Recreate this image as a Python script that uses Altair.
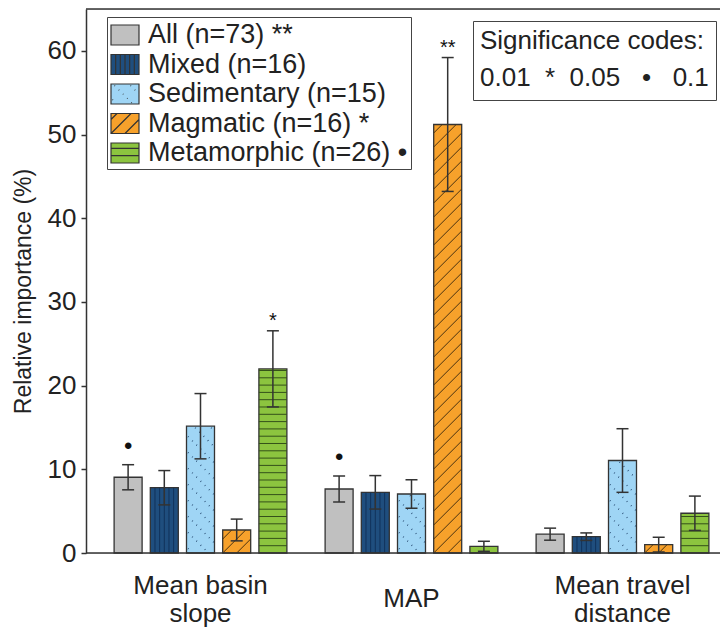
import altair as alt
import numpy as np
import pandas as pd

# ---------------- data ----------------
features = ["Mean basin slope", "MAP", "Mean travel distance"]
series = ["All", "Mixed", "Sedimentary", "Magmatic", "Metamorphic"]
n_sites = [73, 16, 15, 16, 26]
legend_sig = ["**", "", "", "*", "\u2022"]

mean_all = [9.05, 7.65, 2.25]
mean_mixed = [7.8, 7.25, 1.95]
mean_sed = [15.15, 7.05, 11.05]
mean_mag = [2.75, 51.2, 1.0]
mean_met = [22.0, 0.8, 4.75]

err_all = [1.5, 1.55, 0.72]
err_mixed = [2.05, 2.0, 0.45]
err_sed = [3.9, 1.7, 3.8]
err_mag = [1.3, 8.0, 0.88]
err_met = [4.55, 0.6, 2.05]

sig_all = ["\u2022", "\u2022", ""]
sig_mixed = ["", "", ""]
sig_sed = ["", "", ""]
sig_mag = ["", "**", ""]
sig_met = ["*", "", ""]

sig_codes_title = ["Significance codes:",
                   "0.01\u00a0\u00a0*\u00a0\u00a00.05\u00a0\u00a0\u00a0\u2022\u00a0\u00a0\u00a00.1"]

colors = ["#c0c0c0", "#1f4e7e", "#9fd5f5", "#f7a12b", "#8cc43f"]
pattern_kind = {"Mixed": "vertical", "Sedimentary": "dots", "Magmatic": "up", "Metamorphic": "horizontal"}
pattern_color = {"Mixed": "#11325a", "Sedimentary": "#1d3f66", "Magmatic": "#4a3210", "Metamorphic": "#34501a"}

# ---------------- layout constants ----------------
W, H, YMAX = 634, 544, 65
PPU = H / YMAX          # pixels per percent
BAR_W = 28.0            # bar width produced by the xOffset band scale
HALF = BAR_W / 2
SYM_SIZE = BAR_W ** 2   # custom symbol paths span [-1, 1] -> BAR_W pixels

means = [mean_all, mean_mixed, mean_sed, mean_mag, mean_met]
errs = [err_all, err_mixed, err_sed, err_mag, err_met]
sigs = [sig_all, sig_mixed, sig_sed, sig_mag, sig_met]
labels = [f"{s} (n={n})" + (f" {g}" if g else "") for s, n, g in zip(series, n_sites, legend_sig)]

rows = []
for si, s in enumerate(series):
    for fi, f in enumerate(features):
        rows.append(dict(feature=f, series=s, label=labels[si], mean=means[si][fi],
                         err=errs[si][fi], sig=sigs[si][fi], code="codes"))
df = pd.DataFrame(rows)
df["lo"] = df["mean"] - df["err"]
df["hi"] = df["mean"] + df["err"]
df["mid"] = df["mean"] / 2


# ---------------- fill patterns as custom symbol paths ----------------
def f3(v):
    return f"{v:.3f}"


def seg(x0, y0, x1, y1, hgt):
    # bar-local pixel coords (x right, y up) -> symbol coords
    return (f"M{f3((x0 - HALF) / HALF)},{f3((hgt / 2 - y0) / HALF)}"
            f"L{f3((x1 - HALF) / HALF)},{f3((hgt / 2 - y1) / HALF)}")


def pattern_path(kind, hgt, wid=BAR_W):
    parts = []
    if kind == "vertical":
        for x in np.arange(wid / 6, wid - 1, wid / 6):
            parts.append(seg(x, 0, x, hgt, hgt))
    elif kind == "horizontal":
        for y in np.arange(7.3, hgt - 0.8, 7.3):
            parts.append(seg(0, y, wid, y, hgt))
    elif kind == "up":  # y = x + c
        for c in np.arange(-wid, hgt, 14.0):
            xa, xb = max(0.0, -c), min(wid, hgt - c)
            if xb - xa > 1.0:
                parts.append(seg(xa, xa + c, xb, xb + c, hgt))
    elif kind == "dots":  # dotted y = c - x
        for c in np.arange(6.0, hgt + wid, 16.0):
            xa, xb = max(0.0, c - hgt), min(wid, c)
            x = xa + 1.5
            while x < xb - 1.0:
                parts.append(seg(x, c - x, x + 0.5, c - x - 0.5, hgt))
                x += 4.2
    return "".join(parts)


pat_rows = df[df["series"].isin(list(pattern_kind))].copy()
pat_rows["path"] = [pattern_path(pattern_kind[s], m * PPU) for s, m in zip(pat_rows["series"], pat_rows["mean"])]
pat_rows = pat_rows[pat_rows["path"] != ""]

SW_H = 20.0
rect = f"M-1,{f3(-SW_H / 2 / HALF)}H1V{f3(SW_H / 2 / HALF)}H-1Z"
legend_paths = [rect + (pattern_path(pattern_kind[s], SW_H) if s in pattern_kind else "") for s in series]

# ---------------- encodings ----------------
FONT = "Liberation Sans"
TXT = "#222222"
LINE = "#333333"

x_enc = alt.X("feature:N", sort=features, title=None,
              scale=alt.Scale(domain=features, range=[9, 642], paddingInner=0, paddingOuter=0),
              axis=alt.Axis(ticks=False, tickSize=0, domain=False, labelAngle=0, labelFontSize=26,
                            labelColor=TXT, labelFont=FONT,
                            labelPadding={"condition": {"test": "datum.value == 'MAP'", "value": 45},
                                          "value": 32},
                            labelBaseline="middle",
                            labelLineHeight=28, labelLimit=400,
                            labelExpr="datum.label == 'MAP' ? 'MAP' : [substring(datum.label, 0, lastindexof(datum.label, ' ')), substring(datum.label, lastindexof(datum.label, ' ') + 1)]"))
xo_enc = alt.XOffset("series:N", sort=series,
                     scale=alt.Scale(domain=series, paddingInner=0.2265, paddingOuter=0.528))
y_scale = alt.Scale(domain=[0, YMAX], nice=False, zero=True)
y_axis = alt.Axis(values=list(range(0, 61, 10)), tickSize=5, tickWidth=1.5, tickColor=LINE,
                  domainColor=LINE, domainWidth=1.5, labelFontSize=26, labelColor=TXT, labelFont=FONT,
                  labelPadding=5, grid=False, title="Relative importance (%)", titleFontSize=23,
                  titleFontWeight="normal", titleColor=TXT, titleFont=FONT, titleX=-63, titleY=282,
                  titleAngle=270, titleBaseline="middle", titleAlign="center")

legend_main = alt.Legend(title=None, orient="none", legendX=21, legendY=8, padding=3, rowPadding=1.5,
                         symbolSize=SYM_SIZE, symbolOpacity=1, symbolStrokeWidth=1.2,
                         labelFontSize=27, labelFont=FONT, labelColor=TXT,
                         labelOffset=8, labelLimit=500, strokeColor="#444444")
fill_scale = alt.Scale(domain=labels, range=colors)

base = alt.Chart(df)

bars = base.mark_bar(stroke=LINE, strokeWidth=1.3).encode(
    x=x_enc, xOffset=xo_enc,
    y=alt.Y("mean:Q", scale=y_scale, axis=y_axis),
    fill=alt.Fill("label:N", scale=fill_scale, legend=legend_main),
)

pattern_layers = []
for s in pattern_kind:
    sub = pat_rows[pat_rows["series"] == s]
    pattern_layers.append(
        alt.Chart(sub).mark_point(filled=False, size=SYM_SIZE, opacity=1,
                                  stroke=pattern_color[s],
                                  strokeWidth=1.6 if pattern_kind[s] == "dots" else 1.0).encode(
            x=x_enc, xOffset=xo_enc, y=alt.Y("mid:Q", scale=y_scale),
            shape=alt.Shape("path:N", scale=None, legend=None),
        )
    )

err_rules = base.mark_rule(color=LINE, strokeWidth=1.5).encode(
    x=x_enc, xOffset=xo_enc, y=alt.Y("lo:Q", scale=y_scale), y2="hi:Q",
    strokeDash=alt.StrokeDash("code:N", scale=alt.Scale(range=[[1, 0]]),
                              legend=alt.Legend(title=sig_codes_title, orient="none", legendX=387,
                                                legendY=12, padding=7, symbolOpacity=0, symbolSize=1,
                                                symbolType="circle", labelOffset=0, labelFontSize=1,
                                                labelExpr="''", labelColor="white",
                                                titleFontSize=26, titleFont=FONT, titleFontWeight="normal",
                                                titleColor=TXT, titlePadding=0, titleLimit=500,
                                                titleLineHeight=37, titleBaseline="top",
                                                strokeColor="#444444")),
)
caps_hi = base.mark_tick(size=12, thickness=1.5, color=LINE, opacity=1).encode(
    x=x_enc, xOffset=xo_enc, y=alt.Y("hi:Q", scale=y_scale))
caps_lo = base.mark_tick(size=12, thickness=1.5, color=LINE, opacity=1).encode(
    x=x_enc, xOffset=xo_enc, y=alt.Y("lo:Q", scale=y_scale))

dots = base.transform_filter("datum.sig == '\u2022'").mark_text(
    fontSize=24, font=FONT, color="#111111", baseline="bottom", dy=-6).encode(
    x=x_enc, xOffset=xo_enc, y=alt.Y("hi:Q", scale=y_scale), text="sig:N")
stars = base.transform_filter("indexof(datum.sig, '*') >= 0").mark_text(
    fontSize=20, font=FONT, color="#111111", baseline="bottom", dy=0).encode(
    x=x_enc, xOffset=xo_enc, y=alt.Y("hi:Q", scale=y_scale), text="sig:N")

legend_carrier = base.mark_point(filled=True, opacity=0, strokeWidth=1.2).encode(
    x=x_enc, xOffset=xo_enc, y=alt.Y("mean:Q", scale=y_scale),
    fill=alt.Fill("label:N", scale=fill_scale, legend=legend_main),
    stroke=alt.Stroke("label:N", scale=alt.Scale(domain=labels, range=[LINE] * len(labels)),
                      legend=legend_main),
    shape=alt.Shape("label:N", scale=alt.Scale(domain=labels, range=legend_paths), legend=legend_main),
)

frame = pd.DataFrame({"edge": [0, YMAX]})
frame_rules = alt.Chart(frame).mark_rule(color=LINE, strokeWidth=1.5).encode(
    y=alt.Y("edge:Q", scale=y_scale))

chart = alt.layer(bars, *pattern_layers, err_rules, caps_hi, caps_lo, dots, stars,
                  legend_carrier, frame_rules).properties(
    width=W, height=H,
    autosize=alt.AutoSizeParams(type="none"),
    padding={"left": 86, "top": 9, "right": 0, "bottom": 75},
).configure_view(stroke=None).configure(font=FONT, background="white")

chart.save("out.html", embed_options={"renderer": "svg", "actions": False})
